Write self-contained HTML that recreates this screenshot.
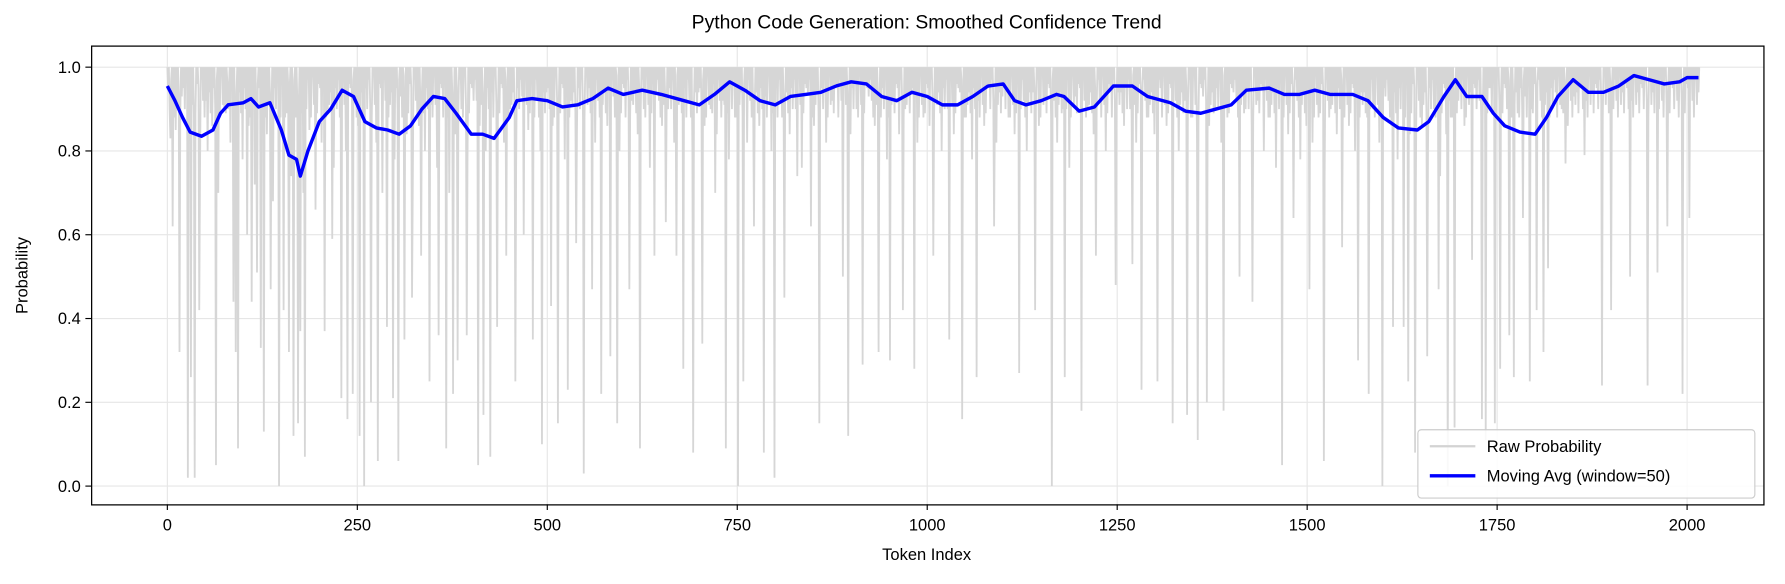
<!DOCTYPE html>
<html><head><meta charset="utf-8"><style>
html,body{margin:0;padding:0;background:#fff;}
svg text{font-family:"Liberation Sans","DejaVu Sans",sans-serif;fill:#000;}
</style></head><body>
<svg id="chart" width="1785" height="584" viewBox="0 0 1568 513" preserveAspectRatio="none" xmlns="http://www.w3.org/2000/svg" style="display:block">
<rect x="0" y="0" width="1568" height="513" fill="#fff"/>
<text x="814" y="25" font-size="17" text-anchor="middle">Python Code Generation: Smoothed Confidence Trend</text>
<g id="grid"></g>
<g id="raw"></g>
<g id="ma"></g>
<rect x="80.5" y="40.5" width="1469" height="403" fill="none" stroke="#000" stroke-width="1.1"/>
<g id="xticks"></g>
<g id="yticks"></g>
<text x="814" y="492" font-size="14.5" text-anchor="middle">Token Index</text>
<text x="24" y="242" font-size="14.5" text-anchor="middle" transform="rotate(-90 24 242)">Probability</text>
<g>
<rect x="1245.5" y="377.5" width="296" height="60" rx="3" fill="#fff" fill-opacity="0.85" stroke="#ccc"/>
<line x1="1256" y1="392" x2="1296" y2="392" stroke="#d3d3d3" stroke-width="2"/>
<text x="1306" y="397" font-size="14.5">Raw Probability</text>
<line x1="1256" y1="418" x2="1296" y2="418" stroke="#0000ff" stroke-width="3"/>
<text x="1306" y="423" font-size="14.5">Moving Avg (window=50)</text>
</g>
</svg>
<script>
const nTokens = 2017;
const xTicks = [0,250,500,750,1000,1250,1500,1750,2000];
const yTicks = [0.0,0.2,0.4,0.6,0.8,1.0];
const dipTokens = [4,7,16,27,31,36,42,53,64,80,87,90,93,105,111,118,123,127,136,147,153,160,166,172,175,181,207,217,229,237,244,253,259,268,277,289,297,304,312,322,334,345,357,367,376,382,394,409,416,425,434,446,458,469,481,493,505,514,527,538,548,559,571,583,592,608,622,641,656,670,679,692,704,721,735,751,758,772,785,799,812,829,847,858,889,896,915,936,951,968,983,1008,1029,1046,1065,1088,1121,1142,1164,1181,1203,1222,1248,1270,1282,1303,1323,1342,1356,1368,1390,1411,1428,1467,1482,1503,1522,1546,1567,1581,1599,1613,1627,1633,1642,1658,1673,1685,1694,1717,1730,1735,1747,1754,1766,1772,1784,1793,1802,1811,1817,1840,1865,1888,1900,1925,1948,1961,1974,1994,2003];
const dipValues = [0.83,0.62,0.32,0.02,0.26,0.02,0.42,0.8,0.05,0.9,0.44,0.32,0.09,0.6,0.44,0.51,0.33,0.13,0.47,0.0,0.42,0.32,0.12,0.15,0.37,0.07,0.37,0.59,0.21,0.16,0.22,0.12,0.0,0.2,0.06,0.38,0.21,0.06,0.35,0.45,0.55,0.25,0.36,0.09,0.22,0.3,0.36,0.05,0.17,0.07,0.38,0.55,0.25,0.6,0.35,0.1,0.43,0.15,0.23,0.58,0.03,0.47,0.22,0.31,0.15,0.47,0.09,0.55,0.63,0.55,0.28,0.08,0.34,0.7,0.09,0.0,0.25,0.62,0.08,0.02,0.45,0.74,0.62,0.15,0.5,0.12,0.29,0.32,0.3,0.42,0.28,0.55,0.35,0.16,0.26,0.62,0.27,0.42,0.0,0.26,0.18,0.55,0.48,0.53,0.23,0.25,0.15,0.17,0.11,0.2,0.18,0.5,0.44,0.05,0.64,0.47,0.06,0.57,0.3,0.22,0.0,0.38,0.38,0.25,0.08,0.31,0.47,0.0,0.14,0.54,0.16,0.11,0.15,0.28,0.36,0.26,0.64,0.25,0.42,0.32,0.52,0.77,0.79,0.24,0.42,0.5,0.24,0.51,0.62,0.22,0.64];
const shallowValues = [0.90,0.85,0.93,0.80,0.88,0.75,0.92,0.86,0.70,0.90,0.82,0.94,0.78,0.86,0.72,0.90,0.84,0.68,0.80,0.88,0.74,0.92,0.70,0.85,0.66,0.82,0.90,0.76,0.88,0.80,0.92,0.86,0.74,0.90,0.82,0.70,0.88,0.78,0.93,0.84,0.72,0.86,0.80,0.91,0.76,0.88,0.70,0.84,0.90,0.78,0.92,0.86,0.80,0.94,0.88,0.82,0.90,0.76,0.93,0.85,0.88,0.80,0.94,0.86,0.90,0.78,0.92,0.84,0.88,0.95,0.82,0.90,0.86,0.93,0.80,0.88,0.92,0.84,0.90,0.76,0.94,0.86,0.90,0.82,0.92,0.88,0.80,0.94,0.86,0.90,0.84,0.92,0.78,0.88,0.94,0.82,0.90,0.86,0.93,0.80,0.88,0.92,0.84,0.90,0.76,0.94,0.86,0.90,0.82,0.92,0.88,0.95,0.84,0.90,0.80,0.93,0.86,0.88,0.78,0.92,0.84,0.90,0.94,0.82,0.88,0.86,0.92,0.80,0.90,0.84,0.94,0.88,0.78,0.92,0.86,0.90,0.82,0.93,0.88,0.84,0.90,0.80,0.94,0.86,0.92,0.88,0.82,0.90,0.76,0.93,0.86,0.90,0.84,0.92,0.80,0.88,0.94,0.86,0.90,0.82,0.92,0.88,0.84,0.95,0.86,0.90,0.80,0.92,0.88,0.84,0.93,0.86,0.90,0.82,0.88,0.94,0.84,0.90,0.86,0.92,0.80,0.88,0.76,0.90,0.84,0.92,0.78,0.86,0.82,0.88,0.74,0.90,0.84,0.92,0.86,0.80,0.94,0.88,0.90,0.82,0.93,0.86,0.78,0.90,0.84,0.70,0.86,0.80,0.90,0.74,0.84,0.88,0.92,0.86,0.94,0.90,0.88,0.95,0.86,0.92,0.90,0.94,0.88,0.93,0.90,0.95,0.92,0.88,0.94,0.90,0.86,0.93];
const fillValues = [0.95,0.90,0.97,0.92,0.88,0.98,0.91,0.94,0.89,0.96];
const maTokens = [0,10,20,30,45,60,70,80,100,110,120,135,150,160,170,175,185,200,215,230,245,260,275,290,305,320,335,350,365,380,400,415,430,450,460,480,500,520,540,560,580,600,625,650,680,700,720,740,760,780,800,820,840,860,880,900,920,940,960,980,1000,1020,1040,1060,1080,1100,1115,1130,1150,1170,1180,1200,1220,1245,1270,1290,1320,1340,1360,1380,1400,1420,1450,1470,1490,1510,1530,1560,1580,1600,1620,1645,1660,1680,1695,1710,1730,1745,1760,1780,1800,1815,1830,1850,1870,1890,1910,1930,1950,1970,1990,2000,2015];
const maValues = [0.955,0.92,0.88,0.845,0.835,0.85,0.89,0.91,0.915,0.925,0.905,0.915,0.85,0.79,0.78,0.74,0.80,0.87,0.90,0.945,0.93,0.87,0.855,0.85,0.84,0.86,0.90,0.93,0.925,0.89,0.84,0.84,0.83,0.88,0.92,0.925,0.92,0.905,0.91,0.925,0.95,0.935,0.945,0.935,0.92,0.91,0.935,0.965,0.945,0.92,0.91,0.93,0.935,0.94,0.955,0.965,0.96,0.93,0.92,0.94,0.93,0.91,0.91,0.93,0.955,0.96,0.92,0.91,0.92,0.935,0.93,0.895,0.905,0.955,0.955,0.93,0.915,0.895,0.89,0.90,0.91,0.945,0.95,0.935,0.935,0.945,0.935,0.935,0.92,0.88,0.855,0.85,0.87,0.93,0.97,0.93,0.93,0.89,0.86,0.845,0.84,0.88,0.93,0.97,0.94,0.94,0.955,0.98,0.97,0.96,0.965,0.975,0.975];

const NS = 'http://www.w3.org/2000/svg';
const X0 = 147, XS = 1335/2000, Y0 = 427, YS = 368;
function xScale(t){ return X0 + t*XS; }
function yScale(v){ return Y0 - v*YS; }
function mk(tag, parent){ const e = document.createElementNS(NS, tag); parent.appendChild(e); return e; }

const grid = document.getElementById('grid');
const xg = document.getElementById('xticks');
const yg = document.getElementById('yticks');
xTicks.forEach(t => {
  const x = xScale(t);
  const gl = mk('line', grid);
  
  
  gl.setAttribute('x1', x); gl.setAttribute('x2', x); gl.setAttribute('y1', 41); gl.setAttribute('y2', 443);
  gl.setAttribute('stroke', '#e6e6e6'); gl.setAttribute('stroke-width', '1');
  const tk = mk('line', xg);
  
  
  tk.setAttribute('x1', x); tk.setAttribute('x2', x); tk.setAttribute('y1', 443); tk.setAttribute('y2', 448);
  tk.setAttribute('stroke', '#000');
  const tx = mk('text', xg);
  
  
  tx.setAttribute('x', x); tx.setAttribute('y', 466); tx.setAttribute('font-size', '14.5'); tx.setAttribute('text-anchor', 'middle');
  tx.textContent = String(t);
});
yTicks.forEach(v => {
  const y = yScale(v);
  const gl = mk('line', grid);
  
  
  gl.setAttribute('x1', 81); gl.setAttribute('x2', 1549); gl.setAttribute('y1', y); gl.setAttribute('y2', y);
  gl.setAttribute('stroke', '#e6e6e6'); gl.setAttribute('stroke-width', '1');
  const tk = mk('line', yg);
  
  
  tk.setAttribute('x1', 75); tk.setAttribute('x2', 80); tk.setAttribute('y1', y); tk.setAttribute('y2', y);
  tk.setAttribute('stroke', '#000');
  const tx = mk('text', yg);
  
  
  tx.setAttribute('x', 71); tx.setAttribute('y', y + 5); tx.setAttribute('font-size', '14.5'); tx.setAttribute('text-anchor', 'end');
  tx.textContent = v.toFixed(1);
});

// raw series
const raw = new Array(nTokens).fill(1.0);
for (let t = 1; t < nTokens; t += 2) raw[t] = fillValues[(t >> 1) % fillValues.length];
shallowValues.forEach((v, i) => { const t = 3 + i * 8; if (t < nTokens) raw[t] = v; });
dipTokens.forEach((t, i) => { if (t < nTokens) raw[t] = dipValues[i]; });
let rp = '';
raw.forEach((v, t) => { rp += (t ? 'L' : 'M') + xScale(t).toFixed(2) + ' ' + yScale(v).toFixed(2); });
const rawPath = mk('path', document.getElementById('raw'));


rawPath.setAttribute('d', rp);
rawPath.setAttribute('fill', 'none'); rawPath.setAttribute('stroke', '#d6d6d6'); rawPath.setAttribute('stroke-width', '1.6');

// moving average
let mp = '';
maTokens.forEach((t, i) => { mp += (i ? 'L' : 'M') + xScale(t).toFixed(2) + ' ' + yScale(maValues[i]).toFixed(2); });
const maPath = mk('path', document.getElementById('ma'));


maPath.setAttribute('d', mp);
maPath.setAttribute('fill', 'none'); maPath.setAttribute('stroke', '#0000ff'); maPath.setAttribute('stroke-width', '3'); maPath.setAttribute('stroke-linejoin', 'round');
</script>
</body></html>
